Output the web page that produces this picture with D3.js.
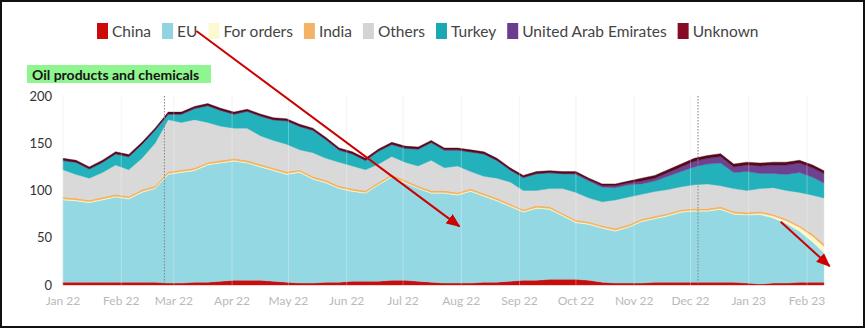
<!DOCTYPE html>
<html>
<head>
<meta charset="utf-8">
<script src="https://cdn.jsdelivr.net/npm/d3@7/dist/d3.min.js"></script>
<style>
  html, body { margin: 0; padding: 0; background: #fff; }
  svg { display: block; font-family: Lato, "Noto Sans", sans-serif; }
</style>
</head>
<body>
<svg id="chart" width="866" height="329"></svg>
<script>
// Weekly destinations of Russian seaborne oil products and chemicals (million barrels, rolling)
const dates = ["2022-01-01","2022-01-08","2022-01-15","2022-01-22","2022-01-29","2022-02-05","2022-02-12","2022-02-19","2022-02-26",
  "2022-03-05","2022-03-12","2022-03-19","2022-03-26","2022-04-02","2022-04-09","2022-04-16","2022-04-23","2022-04-30",
  "2022-05-07","2022-05-14","2022-05-21","2022-05-28","2022-06-04","2022-06-11","2022-06-18","2022-06-25",
  "2022-07-02","2022-07-09","2022-07-16","2022-07-23","2022-07-30","2022-08-06","2022-08-13","2022-08-20","2022-08-27",
  "2022-09-03","2022-09-10","2022-09-17","2022-09-24","2022-10-01","2022-10-08","2022-10-15","2022-10-22","2022-10-29",
  "2022-11-05","2022-11-12","2022-11-19","2022-11-26","2022-12-03","2022-12-10","2022-12-17","2022-12-24","2022-12-31",
  "2023-01-07","2023-01-14","2023-01-21","2023-01-28","2023-02-04","2023-02-10"];

const china = [3,3,3,3,3,3,3,3,2,2,3,3,4,5,5,5,4,3,2,2,3,3,4,4,4,5,5,4,3,2,2,2,3,3,4,5,5,6,6,6,5,3,2,2,2,3,3,3,3,3,3,3,2,1,2,2,3,3,3];
const eu = [87,86,84,87,90,88,95,99,115,117,118,124,125,126,124,120,117,114,117,110,105,99,95,93,102,109,103,98,94,95,93,97,91,86,79,72,76,74,67,60,59,57,55,59,65,67,70,74,75,75,77,72,72,73.5,69,63,54,42.5,31];
const forOrders = [1,1,1,1,1,1,1,1,1,1,1,1,1,1,1,1,1,1,1,1,1,1,1,1,1,1,1,1,1,1,1,1,1,1,1,1,1,1,1,1,1,1,1,1,1,1,1,1,1,1,1,1,1,1.5,2,3,4,6,7];
const india = [2,2,2,2,2,2,2,2,2,2,2,2,2,2,2,2,2,2,2,2,2,2,2,2,2,2,2,2,2,2,2,2,2,2,2,2,2,2,2,2,2,2,2,2,2,2,2,2,2,2,2,2,2,2,2,2,2,2.5,3];
const others = [29,25,23,26,31,28,33,45,55,50,51,42,36,32,34,30,29,29,21,25,23,25,24,22,19,19,19,21,32,24,28,18,18,21,23,20,16,19,26,29,25,25,30,29,26,26,25,24,25,26,22,24,23,24,28,30,35,41,48];
const turkey = [9.5,12.5,9.5,10.5,11.5,13.5,14.5,13.5,5.5,8.5,11.5,17.5,16.5,14.5,17.5,20.5,21.5,24.5,24.5,23.5,19.5,12.5,12.5,9.5,13.5,12.5,14.5,17.5,18.5,18.5,16.5,20.5,23.5,18.5,12.5,13.5,17.5,16.5,15.5,19,18,15.5,13,13,11,11,14,16,19,21,24,17,20,16,15,17,21,19,16];
const uae = [0.5,0.5,0.5,0.5,0.5,0.5,0.5,0.5,0.5,0.5,0.5,0.5,0.5,0.5,0.5,0.5,0.5,0.5,0.5,0.5,0.5,0.5,0.5,0.5,0.5,0.5,0.5,0.5,0.5,0.5,0.5,0.5,0.5,0.5,0.5,0.5,0.5,0.5,0.5,1,1,1.5,2,2,3,3,4,5,6,6,7,6,7,8,9,10,10,10,10];
const unknown = [2,2,2,2,2,2,2,2,2,2,2,2,2,2,2,2,2,2,2,2,2,2,2,2,2,2,2,2,2,2,2,2,2,2,2,2,2,2,2,2,2,2,2,2,3,3,3,3,3,3,3,3,3,3,3,3,3,3,3];

const seriesNames = ["China","EU","For orders","India","Others","Turkey","United Arab Emirates","Unknown"];
const seriesValues = [china, eu, forOrders, india, others, turkey, uae, unknown];
const fillColors = ["#c90d0d","#93d8e3","#fbf8cc","#f2b264","#d9d9d9","#23b1bc","#6e4191","#55091c"];
const swatchColors = ["#cc0a0a","#8fd4e0","#fcf9d2","#f3b266","#d4d4d4","#1aa8b5","#6c3d8c","#850c22"];

const yTicks = [0, 50, 100, 150, 200];
const eventDates = ["2022-02-24", "2022-12-05"];
const titleText = "Oil products and chemicals";

const W = 866, H = 329;
const svg = d3.select("#chart");
const parse = d3.utcParse("%Y-%m-%d");

svg.append("rect").attr("width", W).attr("height", H).attr("fill", "#ffffff");

const x = d3.scaleUtc()
  .domain([parse("2022-01-01"), parse("2023-02-01")])
  .range([63, 807]);
const y = d3.scaleLinear().domain([0, 200]).range([285, 96]);

const rows = dates.map((d, i) => {
  const r = { date: parse(d) };
  seriesNames.forEach((k, j) => { r[k] = seriesValues[j][i]; });
  return r;
});
const stacked = d3.stack().keys(seriesNames)(rows);

// faint month grid behind the areas
const months = d3.utcMonth.range(parse("2022-01-01"), parse("2023-02-02"));
svg.append("g").selectAll("line").data(months).join("line")
  .attr("x1", d => x(d)).attr("x2", d => x(d))
  .attr("y1", y(200)).attr("y2", y(0))
  .attr("stroke", "#f1f1f1").attr("stroke-width", 1);

const area = d3.area()
  .x(d => x(d.data.date))
  .y0(d => y(d[0]))
  .y1(d => y(d[1]))
  .curve(d3.curveLinear);

svg.append("g").selectAll("path").data(stacked).join("path")
  .attr("d", area)
  .attr("fill", (d, i) => fillColors[i])
  .attr("stroke", (d, i) => fillColors[i])
  .attr("stroke-width", 0.4);

// month grid showing faintly through the areas
svg.append("g").selectAll("line").data(months).join("line")
  .attr("x1", d => x(d)).attr("x2", d => x(d))
  .attr("y1", y(200)).attr("y2", y(0))
  .attr("stroke", "#ffffff").attr("stroke-opacity", 0.3).attr("stroke-width", 1);

// dotted event markers
svg.append("g").selectAll("line").data(eventDates).join("line")
  .attr("x1", d => x(parse(d))).attr("x2", d => x(parse(d)))
  .attr("y1", y(200)).attr("y2", y(0))
  .attr("stroke", "#8a8a8a").attr("stroke-width", 1.1)
  .attr("stroke-dasharray", "1.5,1.5");

// y axis labels
svg.append("g").selectAll("text").data(yTicks).join("text")
  .attr("x", 52).attr("y", d => y(d)).attr("dy", "0.36em")
  .attr("text-anchor", "end")
  .attr("font-size", 13).attr("fill", "#333")
  .text(d => d);

// x axis labels
const fmt = d3.utcFormat("%b %y");
svg.append("g").selectAll("text").data(months).join("text")
  .attr("x", d => x(d)).attr("y", 305)
  .attr("text-anchor", "middle")
  .attr("font-size", 12).attr("fill", "#b9b9b9")
  .text(d => fmt(d));

// title with highlight
const title = svg.append("g");
title.append("rect").attr("x", 27).attr("y", 65).attr("width", 184).attr("height", 18).attr("fill", "#8ff58f");
title.append("text").attr("x", 32).attr("y", 79.5)
  .attr("font-size", 14).attr("font-weight", 700).attr("fill", "#141414")
  .text(titleText);

// legend
const legend = svg.append("g");
let lx = 97;
const legendPos = [];
seriesNames.forEach((name, i) => {
  legend.append("rect").attr("x", lx).attr("y", 23).attr("width", 11).attr("height", 16)
    .attr("fill", swatchColors[i]);
  const t = legend.append("text").attr("x", lx + 15).attr("y", 31).attr("dy", "0.36em")
    .attr("font-size", 15.5).attr("fill", "#444").text(name);
  const w = t.node().getComputedTextLength();
  legendPos.push({ x: lx + 15, w });
  lx += 15 + w + 11;
});

// red annotation arrows
const defs = svg.append("defs");
defs.append("marker").attr("id", "head")
  .attr("viewBox", "0 0 12 10").attr("refX", 11).attr("refY", 5)
  .attr("markerWidth", 14).attr("markerHeight", 12)
  .attr("markerUnits", "userSpaceOnUse").attr("orient", "auto")
  .append("path").attr("d", "M0,0 L12,5 L0,10 Z").attr("fill", "#cc0000");

const euLabel = legendPos[1];
const arrows = [
  { x1: euLabel.x + euLabel.w * 0.95, y1: 31, x2: x(parse("2022-07-31")), y2: y(62) },
  { x1: x(parse("2023-01-18")), y1: y(67), x2: x(parse("2023-02-13")), y2: y(20) }
];
svg.append("g").selectAll("line").data(arrows).join("line")
  .attr("x1", d => d.x1).attr("y1", d => d.y1)
  .attr("x2", d => d.x2).attr("y2", d => d.y2)
  .attr("stroke", "#cc0000").attr("stroke-width", 2)
  .attr("marker-end", "url(#head)");

// frame
svg.append("rect").attr("x", 1).attr("y", 1).attr("width", W - 3).attr("height", H - 3)
  .attr("fill", "none").attr("stroke", "#111").attr("stroke-width", 2);
</script>
</body>
</html>
